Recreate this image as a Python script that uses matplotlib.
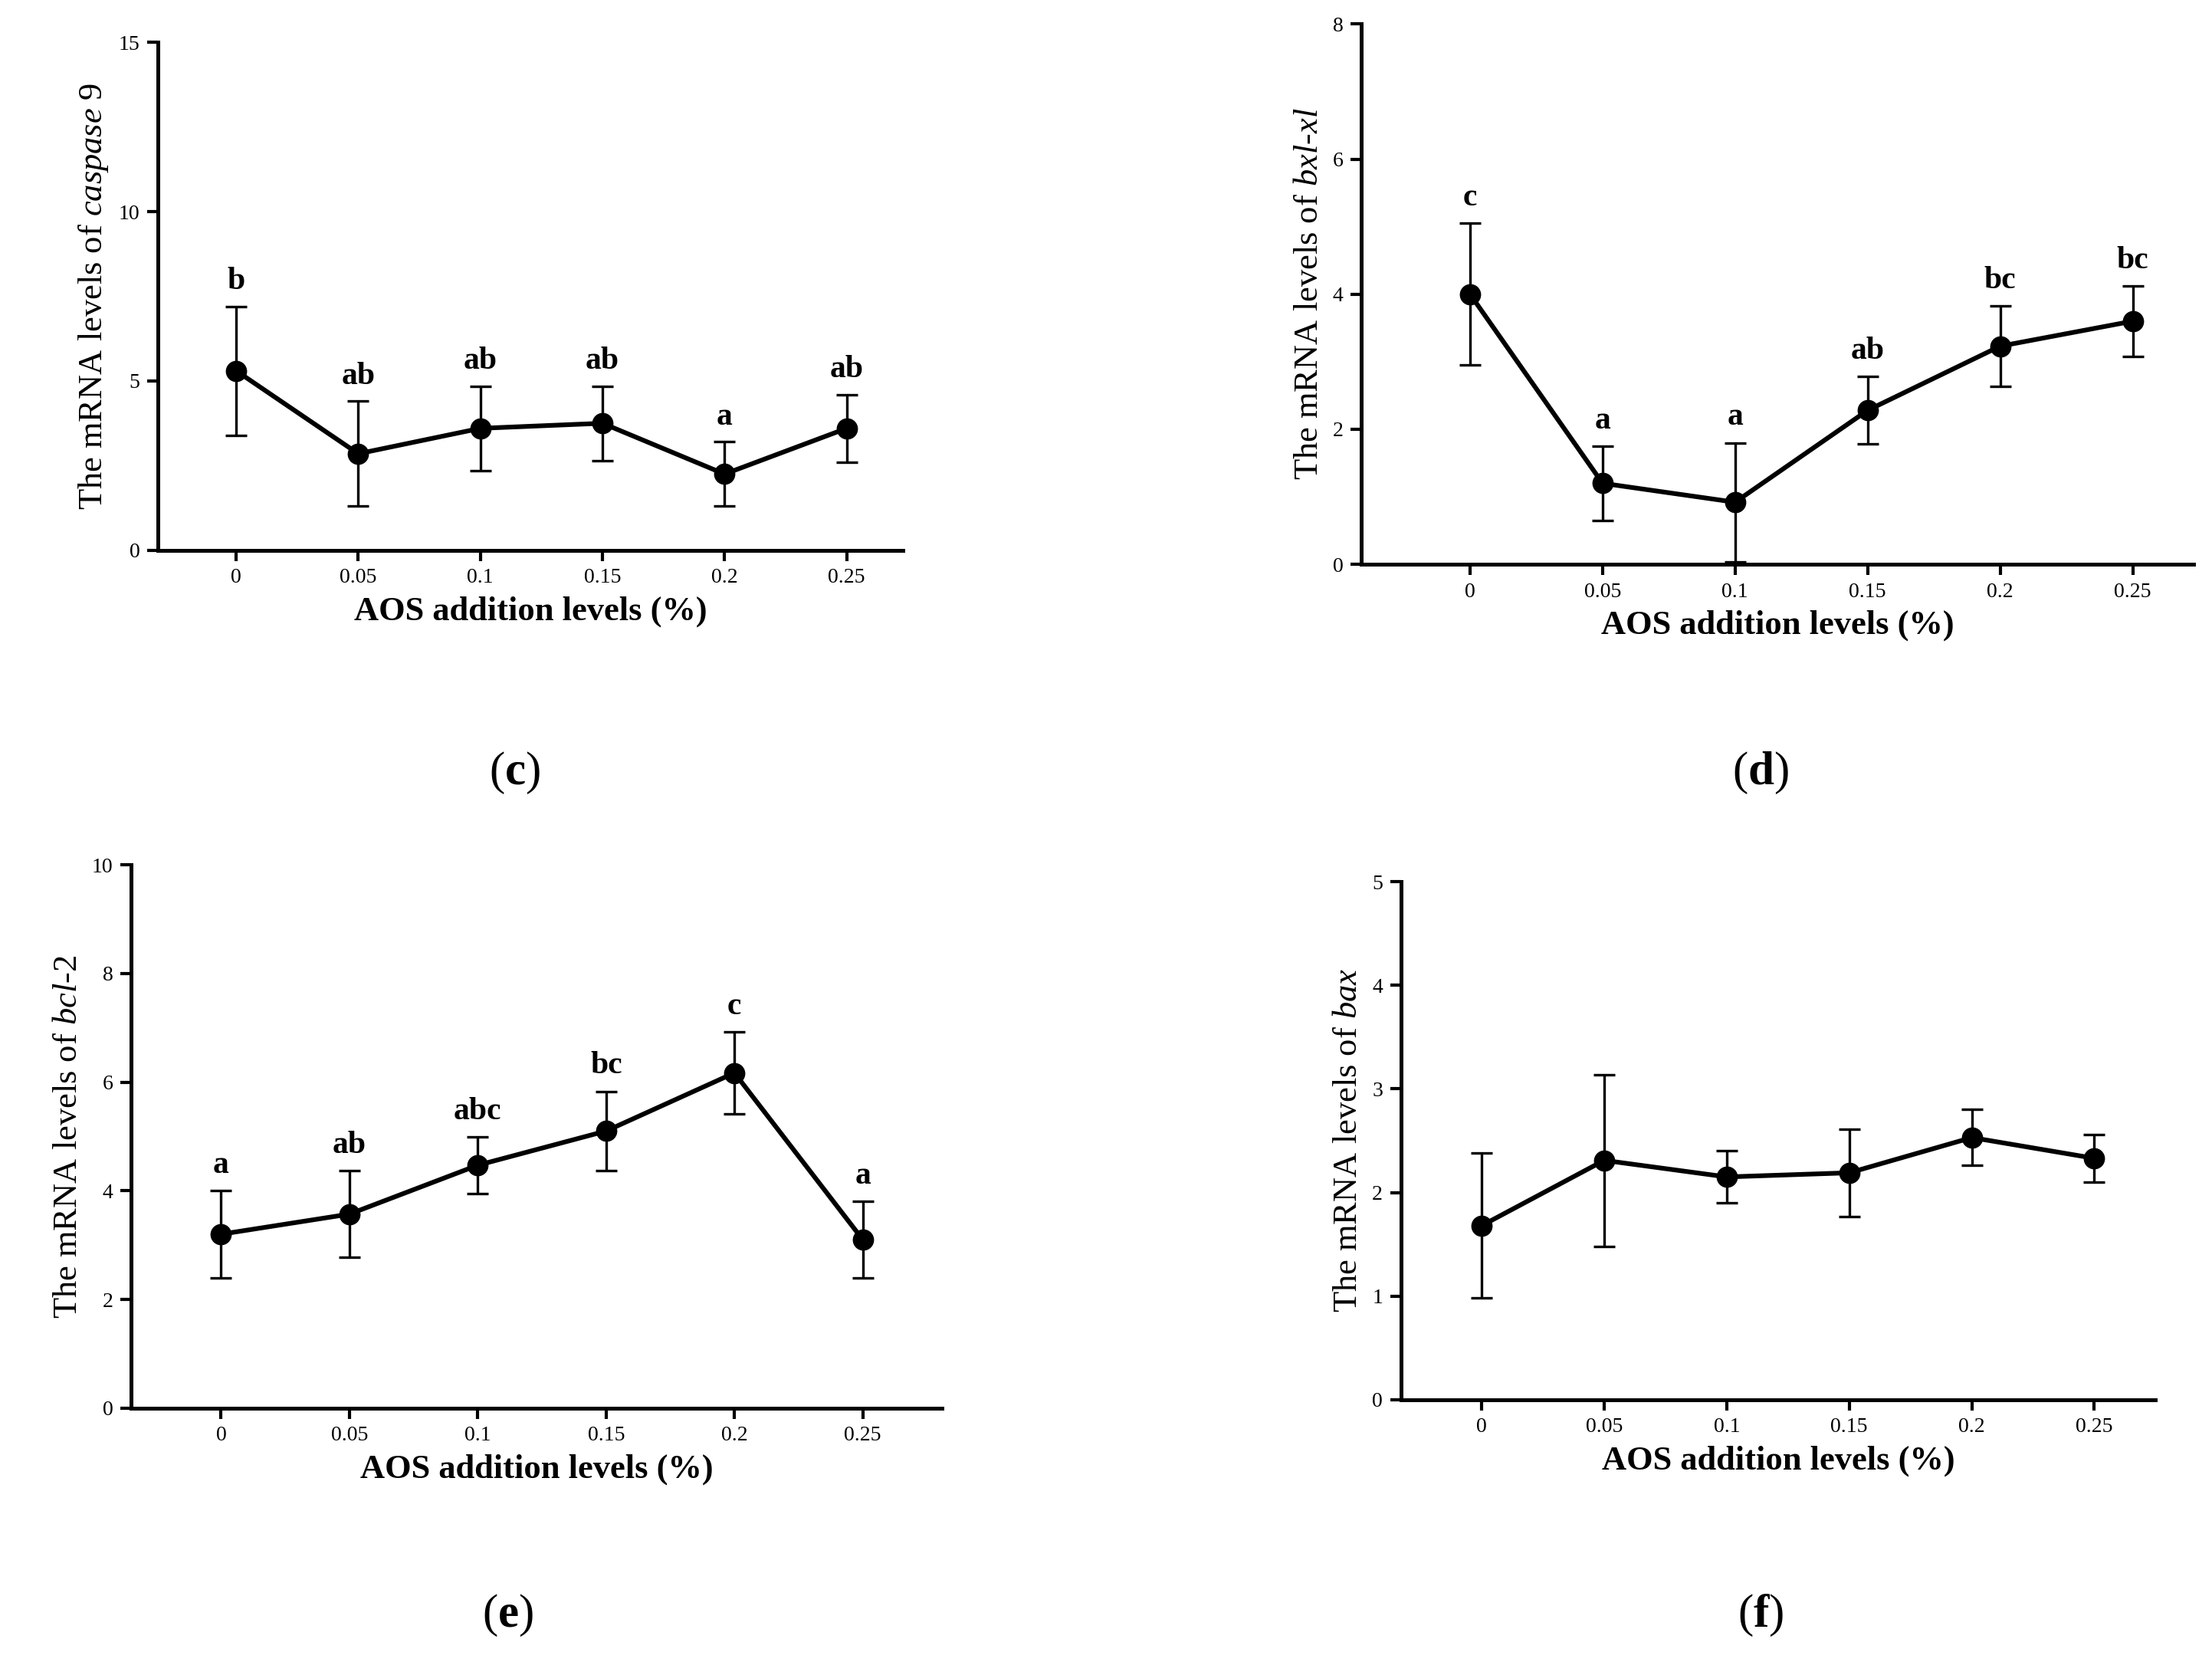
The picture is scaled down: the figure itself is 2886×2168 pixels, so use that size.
import matplotlib.pyplot as plt

plt.rcParams['font.family'] = ['Liberation Serif', 'DejaVu Serif']
plt.rcParams['mathtext.fontset'] = 'custom'
plt.rcParams['mathtext.it'] = 'Liberation Serif:italic'
plt.rcParams['mathtext.rm'] = 'Liberation Serif'
plt.rcParams['mathtext.bf'] = 'Liberation Serif:bold'

levels = [0, 0.05, 0.1, 0.15, 0.2, 0.25]
level_labels = ['0', '0.05', '0.1', '0.15', '0.2', '0.25']

casp9 = [5.3, 2.85, 3.6, 3.75, 2.25, 3.6]
casp9_err = [1.9, 1.55, 1.25, 1.1, 0.95, 1.0]
casp9_sig = ['b', 'ab', 'ab', 'ab', 'a', 'ab']

bxl = [4.0, 1.2, 0.92, 2.28, 3.23, 3.6]
bxl_err = [1.05, 0.55, 0.88, 0.5, 0.6, 0.52]
bxl_sig = ['c', 'a', 'a', 'ab', 'bc', 'bc']

bcl2 = [3.2, 3.57, 4.47, 5.1, 6.17, 3.1]
bcl2_err = [0.8, 0.8, 0.52, 0.73, 0.75, 0.7]
bcl2_sig = ['a', 'ab', 'abc', 'bc', 'c', 'a']

bax = [1.68, 2.31, 2.15, 2.19, 2.53, 2.33]
bax_err = [0.7, 0.83, 0.25, 0.42, 0.27, 0.23]

W, H = 1568, 1178
fig = plt.figure(figsize=(14.43, 10.84), dpi=200)

panels = [
    (112, 640, 30, 390, (-0.032, 0.273), 15, [0, 5, 10, 15], '$caspase\\ 9$', casp9, casp9_err, casp9_sig, 'c', (365, 548)),
    (965, 1555, 17, 400, (-0.041, 0.273), 8, [0, 2, 4, 6, 8], '$bxl$-$xl$', bxl, bxl_err, bxl_sig, 'd', (1248, 548)),
    (93, 668, 613, 998, (-0.035, 0.281), 10, [0, 2, 4, 6, 8, 10], '$bcl$-$2$', bcl2, bcl2_err, bcl2_sig, 'e', (360, 1145)),
    (993, 1528, 625, 992, (-0.033, 0.275), 5, [0, 1, 2, 3, 4, 5], '$bax$', bax, bax_err, None, 'f', (1248, 1145)),
]

for l, r, t, b, xlim, ymax, yt, gene, y, e, sig, tag, tp in panels:
    ax = fig.add_axes([l / W, 1 - b / H, (r - l) / W, (b - t) / H])
    ax.errorbar(levels, y, yerr=e, color='black', lw=2.2, marker='o', ms=9,
                capsize=5, elinewidth=1.2, capthick=1.2)
    if sig:
        for xv, yv, ev, s in zip(levels, y, e, sig):
            ax.text(xv, yv + ev + ymax * 0.02, s, ha='center', va='bottom',
                    fontsize=15, fontweight='bold')
    ax.set_xlim(*xlim)
    ax.set_ylim(0, ymax)
    ax.set_yticks(yt)
    ax.set_xticks(levels)
    ax.set_xticklabels(level_labels)
    for s in ['top', 'right']:
        ax.spines[s].set_visible(False)
    for s in ['left', 'bottom']:
        ax.spines[s].set_linewidth(1.8)
    ax.tick_params(width=1.5, length=5, labelsize=10)
    ax.set_xlabel('AOS addition levels (%)', fontsize=16, fontweight='bold')
    ax.set_ylabel('The mRNA levels of ' + gene, fontsize=16)
    fig.text(tp[0] / W, 1 - tp[1] / H, '(' + r'$\mathbf{' + tag + '}$' + ')',
             ha='center', va='center', fontsize=22)

fig.savefig('out.png', dpi=200, facecolor='white')
